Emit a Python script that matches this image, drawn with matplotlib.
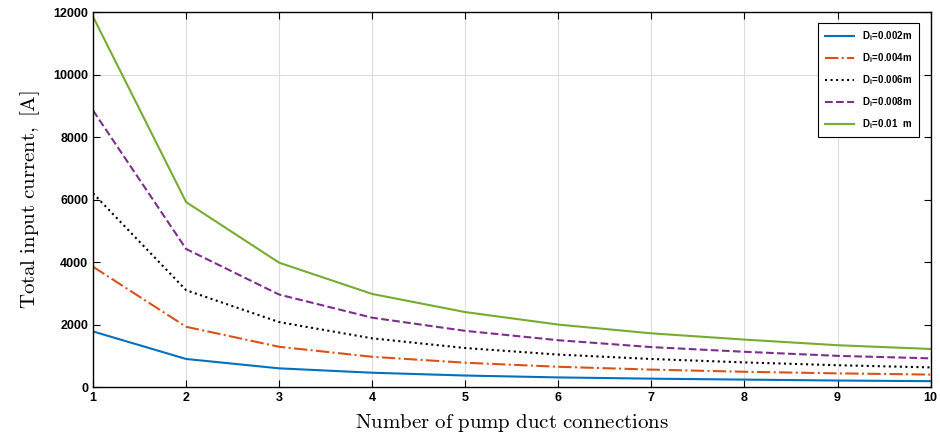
import matplotlib
matplotlib.use("Agg")
import matplotlib.pyplot as plt

n_conn = [1, 2, 3, 4, 5, 6, 7, 8, 9, 10]
i_002 = [1780, 900, 600, 460, 370, 310, 270, 240, 210, 190]
i_004 = [3850, 1930, 1290, 970, 780, 650, 560, 490, 440, 400]
i_006 = [6200, 3100, 2080, 1560, 1250, 1040, 900, 790, 700, 630]
i_008 = [8850, 4420, 2960, 2220, 1800, 1500, 1280, 1130, 1000, 920]
i_010 = [11850, 5920, 3980, 2980, 2400, 2000, 1720, 1520, 1340, 1220]
labels = ["D$_\\mathregular{i}$=0.002m", "D$_\\mathregular{i}$=0.004m", "D$_\\mathregular{i}$=0.006m",
          "D$_\\mathregular{i}$=0.008m", "D$_\\mathregular{i}$=0.01  m"]

plt.rcParams['mathtext.fontset'] = 'cm'
fig = plt.figure(figsize=(9.4, 4.47), dpi=100)
ax = fig.add_axes([0.099, 0.134, 0.891, 0.839])

ax.plot(n_conn, i_002, color="#0072BD", linestyle="-", lw=1.5, label=labels[0])
ax.plot(n_conn, i_004, color="#D95319", linestyle="-.", lw=1.5, label=labels[1])
ax.plot(n_conn, i_006, color="black", linestyle=":", lw=1.5, label=labels[2])
ax.plot(n_conn, i_008, color="#7E2F8E", linestyle="--", lw=1.5, label=labels[3])
ax.plot(n_conn, i_010, color="#77AC30", linestyle="-", lw=1.5, label=labels[4])

ax.set_xlim(1, 10)
ax.set_ylim(0, 12000)
ax.set_xticks(n_conn)
ax.set_yticks(range(0, 12001, 2000))
ax.grid(True, axis="x", color="#dddddd", lw=0.8)
ax.axhline(10000, color="#dddddd", lw=0.8, zorder=0)
ax.tick_params(direction="in", top=True, right=True, length=5, labelsize=9)
for t in ax.get_xticklabels() + ax.get_yticklabels():
    t.set_fontweight("bold")
    t.set_family("Liberation Sans")
for s in ax.spines.values():
    s.set_linewidth(1.0)

ax.set_xlabel(r"$\mathrm{Number\ of\ pump\ duct\ connections}$", fontsize=15, labelpad=6)
ax.set_ylabel(r"$\mathrm{Total\ input\ current,\ [A]}$", fontsize=15, labelpad=8)

leg = ax.legend(loc="upper right", bbox_to_anchor=(0.992, 0.985), fancybox=False,
                edgecolor="black", framealpha=1, handlelength=3,
                prop={"family": "Liberation Sans", "size": 7, "weight": "bold"},
                labelspacing=0.85, borderpad=0.7)
leg.get_frame().set_linewidth(0.8)

fig.savefig("out.png", dpi=100)
